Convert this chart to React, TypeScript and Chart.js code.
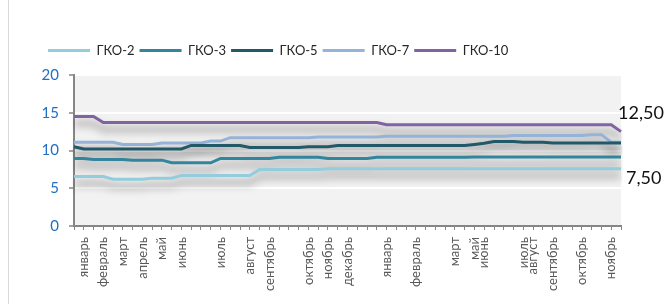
import React, { useEffect, useRef } from "react";
import { Chart, registerables } from "chart.js";

Chart.register(...registerables);

// ---- data ----
const POINT_COUNT = 57;
const monthNames = [
  "январь", "февраль", "март", "апрель", "май", "июнь", "июль", "август", "сентябрь",
  "октябрь", "ноябрь", "декабрь", "январь", "февраль", "март", "май", "июнь", "июль",
  "август", "сентябрь", "октябрь", "ноябрь",
];
const monthIndex = [1, 3, 5, 7, 9, 11, 15, 18, 20, 24, 26, 28, 32, 35, 39, 41, 42, 46, 47, 49, 52, 55];

const gko2 = [
  6.56, 6.56, 6.56, 6.56, 6.2, 6.2, 6.2, 6.2, 6.33, 6.33, 6.33,
  6.69, 6.69, 6.69, 6.69, 6.69, 6.69, 6.69, 6.69,
  7.5, 7.5, 7.5, 7.5, 7.5, 7.5, 7.5,
  7.57, 7.57, 7.57, 7.57, 7.57, 7.57, 7.57, 7.57, 7.57, 7.57, 7.57, 7.57, 7.57, 7.57, 7.57, 7.57,
  7.57, 7.57, 7.57, 7.57, 7.57, 7.57, 7.57, 7.57, 7.57, 7.57, 7.57, 7.57, 7.57, 7.57, 7.57,
];
const gko3 = [
  8.95, 8.95, 8.8, 8.8, 8.8, 8.8, 8.72, 8.72, 8.72, 8.72,
  8.37, 8.37, 8.37, 8.37, 8.37, 8.95, 8.95, 8.95, 8.95, 8.95, 8.95,
  9.12, 9.12, 9.12, 9.12, 9.12, 8.95, 8.95, 8.95, 8.95, 8.95,
  9.1, 9.1, 9.1, 9.1, 9.1, 9.1, 9.1, 9.1, 9.1, 9.1,
  9.15, 9.15, 9.15, 9.15, 9.15, 9.15, 9.15, 9.15, 9.15, 9.15, 9.15, 9.15, 9.15, 9.15, 9.15, 9.15,
];
const gko5 = [
  10.5, 10.2, 10.2, 10.2, 10.2, 10.2, 10.2, 10.2, 10.2, 10.2, 10.2, 10.2,
  10.67, 10.67, 10.67, 10.67, 10.67, 10.67, 10.4, 10.4, 10.4, 10.4, 10.4, 10.4,
  10.5, 10.5, 10.5,
  10.65, 10.65, 10.65, 10.65, 10.65, 10.65, 10.65, 10.65, 10.65, 10.65, 10.65, 10.65, 10.65, 10.65,
  10.8, 10.95, 11.2, 11.2, 11.2, 11.1, 11.1, 11.1,
  11.0, 11.0, 11.0, 11.0, 11.0, 11.0, 11.0, 11.0,
];
const gko7 = [
  11.1, 11.1, 11.1, 11.1, 11.1, 10.8, 10.8, 10.8, 10.8, 11.0, 11.0, 11.0, 11.0, 11.0,
  11.25, 11.25, 11.7, 11.7, 11.7, 11.7, 11.7, 11.7, 11.7, 11.7, 11.7,
  11.8, 11.8, 11.8, 11.8, 11.8, 11.8, 11.8,
  11.9, 11.9, 11.9, 11.9, 11.9, 11.9, 11.9, 11.9, 11.9, 11.9, 11.9, 11.9, 11.9,
  12.0, 12.0, 12.0, 12.0, 12.0, 12.0, 12.0, 12.0, 12.1, 12.1, 11.1, 11.1,
];
const gko10 = [
  14.5, 14.5, 14.5,
  13.7, 13.7, 13.7, 13.7, 13.7, 13.7, 13.7, 13.7, 13.7, 13.7, 13.7, 13.7, 13.7, 13.7, 13.7,
  13.7, 13.7, 13.7, 13.7, 13.7, 13.7, 13.7, 13.7, 13.7, 13.7, 13.7, 13.7, 13.7, 13.7,
  13.4, 13.4, 13.4, 13.4, 13.4, 13.4, 13.4, 13.4, 13.4, 13.4, 13.4, 13.4, 13.4, 13.4, 13.4,
  13.4, 13.4, 13.4, 13.4, 13.4, 13.4, 13.4, 13.4, 13.4, 12.5,
];

const seriesNames = ["ГКО-2", "ГКО-3", "ГКО-5", "ГКО-7", "ГКО-10"];
const seriesValues = [gko2, gko3, gko5, gko7, gko10];
const seriesColors = ["#93CDDD", "#31859C", "#215968", "#95B3D7", "#8064A2"];

const yTicks = [0, 5, 10, 15, 20];

const noteTexts = ["12,50", "7,50"];
const noteValues = [15, 6.3];

const categories: string[] = Array.from({ length: POINT_COUNT }, () => "");
monthIndex.forEach((idx, i) => {
  categories[idx] = monthNames[i];
});

const FONT = "Lato";

const bgPlugin = {
  id: "plotBg",
  beforeDraw(chart: any) {
    const { ctx, chartArea } = chart;
    ctx.save();
    ctx.fillStyle = "#F2F2F2";
    ctx.fillRect(chartArea.left, chartArea.top, chartArea.right - chartArea.left, chartArea.bottom - chartArea.top);
    ctx.restore();
  },
};

const shadowPlugin = {
  id: "lineShadow",
  beforeDatasetsDraw(chart: any) {
    const ctx = chart.ctx;
    ctx.save();
    ctx.shadowColor = "rgba(0,0,0,0.5)";
    ctx.shadowBlur = 9;
    ctx.shadowOffsetX = 0;
    ctx.shadowOffsetY = 7;
  },
  afterDatasetsDraw(chart: any) {
    chart.ctx.restore();
  },
};

const legendPlugin = {
  id: "legendTweak",
  beforeInit(chart: any) {
    const lg = chart.legend;
    if (!lg) return;
    const fit = lg.fit;
    lg.fit = function () {
      fit.call(this);
      this.height = 36;
    };
  },
  afterLayout(chart: any) {
    const lg = chart.legend;
    if (!lg || !lg.lineWidths) return;
    const pad = lg.options.labels.padding;
    const x0 = (lg.left + pad + lg.right - lg.lineWidths[0]) / 2;
    const dx = 48 - x0;
    lg.left += dx;
    lg.right += dx;
  },
};

const notePlugin = {
  id: "notes",
  afterDraw(chart: any) {
    const { ctx, chartArea } = chart;
    const y = chart.scales.y;
    ctx.save();
    ctx.fillStyle = "#111111";
    ctx.font = `18px ${FONT}`;
    ctx.textBaseline = "middle";
    ctx.textAlign = "left";
    ctx.fillText(noteTexts[0], chartArea.right - 3, y.getPixelForValue(noteValues[0]));
    ctx.fillText(noteTexts[1], chartArea.right + 5, y.getPixelForValue(noteValues[1]));
    ctx.restore();
  },
};

export default function App() {
  const ref = useRef<HTMLCanvasElement | null>(null);

  useEffect(() => {
    if (!ref.current) return;
    const chart = new Chart(ref.current, {
      type: "line",
      data: {
        labels: categories,
        datasets: seriesNames.map((name, i) => ({
          label: name,
          data: seriesValues[i],
          borderColor: seriesColors[i],
          backgroundColor: seriesColors[i],
          borderWidth: 3,
          pointRadius: 0,
          tension: 0,
          fill: false,
        })),
      },
      options: {
        animation: false,
        responsive: false,
        events: [],
        layout: { padding: { top: 39, left: 0, right: 44, bottom: 0 } },
        plugins: {
          tooltip: { enabled: false },
          legend: {
            position: "top",
            labels: {
              boxWidth: 42,
              boxHeight: 3,
              padding: 5,
              color: "#262626",
              font: { family: FONT, size: 13 },
              generateLabels: (c: any) =>
                Chart.defaults.plugins.legend.labels.generateLabels(c).map((l: any) => ({
                  ...l,
                  lineWidth: 0,
                  fillStyle: l.strokeStyle,
                })),
            },
          },
        },
        scales: {
          x: {
            type: "category",
            offset: false,
            grid: { drawOnChartArea: false, tickColor: "#868686", tickLength: 4, tickWidth: 1 },
            border: { color: "#868686", width: 2 },
            ticks: {
              autoSkip: false,
              minRotation: 90,
              maxRotation: 90,
              padding: 7,
              color: "#595959",
              font: { family: FONT, size: 13 },
            },
            afterFit: (s: any) => {
              s.height = 78;
            },
          },
          y: {
            min: yTicks[0],
            max: yTicks[yTicks.length - 1],
            afterBuildTicks: (s: any) => {
              s.ticks = yTicks.map((v) => ({ value: v }));
            },
            ticks: { color: "#1F6FC5", font: { family: FONT, size: 15 }, padding: 10 },
            grid: { color: "#ffffff", lineWidth: 2, tickColor: "#868686", tickLength: 5, tickWidth: 1.5 },
            border: { color: "#868686", width: 2 },
            afterFit: (s: any) => {
              s.width = 74;
            },
          },
        },
      } as any,
      plugins: [bgPlugin, shadowPlugin, legendPlugin, notePlugin],
    });
    return () => chart.destroy();
  }, []);

  return (
    <div style={{ position: "fixed", left: 0, top: 0, width: 665, height: 304, background: "#fff" }}>
      <div style={{ position: "absolute", left: 8, top: 0, width: 1, height: 304, background: "#D9D9D9" }} />
      <canvas ref={ref} width={665} height={304} style={{ position: "absolute", left: 0, top: 0, display: "block" }} />
    </div>
  );
}
